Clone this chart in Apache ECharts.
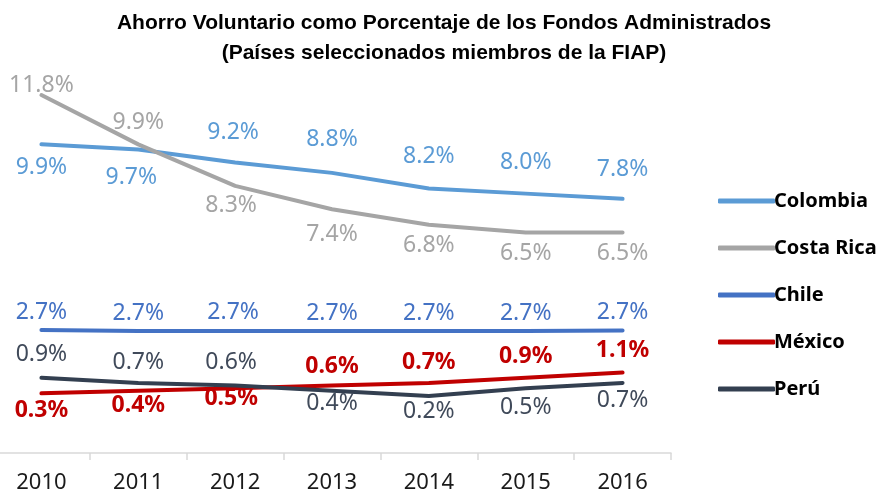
<!DOCTYPE html>
<html>
<head>
<meta charset="utf-8">
<script src="https://cdn.jsdelivr.net/npm/echarts@6/dist/echarts.min.js"></script>
<style>
  html, body { margin: 0; padding: 0; background: #fff; }
  #chart { width: 888px; height: 493px; }
</style>
</head>
<body>
<div id="chart"></div>
<script>
// 数据
const years = ['2010', '2011', '2012', '2013', '2014', '2015', '2016'];
const colombia = [9.9, 9.7, 9.2, 8.8, 8.2, 8.0, 7.8];
const costaRica = [11.8, 9.9, 8.3, 7.4, 6.8, 6.5, 6.5];
const chile = [2.74, 2.7, 2.7, 2.7, 2.7, 2.7, 2.72];
const mexico = [0.3, 0.4, 0.5, 0.6, 0.7, 0.9, 1.1];
const peru = [0.9, 0.7, 0.6, 0.4, 0.2, 0.5, 0.7];

// 标签相对数据点的偏移 (dx, dy)
const colombiaLbl = [[0, 23], [-7, 28], [-2, -30], [0, -33], [0, -32], [0, -31], [0, -29]];
const costaRicaLbl = [[0, -10], [0, -22], [-4, 20], [0, 25], [0, 21], [0, 21], [0, 21]];
const chileLbl = [[0, -18], [0, -18], [-2, -19], [0, -18], [0, -18], [0, -18], [0, -18]];
const mexicoLbl = [[0, 17], [0, 15], [-4, 10], [0, -19], [0, -21], [0, -21], [0, -22]];
const peruLbl = [[0, -23], [0, -21], [-4, -23], [0, 13], [0, 16], [0, 19], [0, 17]];

const chart = echarts.init(document.getElementById('chart'));

function makeSeries(name, values, offsets, color, labelColor, bold) {
    return {
        name: name,
        type: 'line',
        data: values.map((v, i) => ({
            value: v,
            label: { offset: offsets[i] }
        })),
        symbol: 'circle',
        symbolSize: 0,
        smooth: false,
        itemStyle: { color: color },
        lineStyle: { width: 4, color: color, cap: 'round', join: 'round' },
        label: {
            show: true,
            position: 'inside',
            align: 'center',
            verticalAlign: 'middle',
            color: labelColor,
            fontFamily: 'Noto Sans',
            fontSize: 23,
            fontWeight: bold ? 'bold' : 'normal',
            formatter: p => p.value.toFixed(1) + '%'
        },
        emphasis: { disabled: true }
    };
}

const option = {
    animation: false,
    title: {
        text: 'Ahorro Voluntario como Porcentaje de los Fondos Administrados\n(Países seleccionados miembros de la FIAP)',
        left: 'center',
        top: 3,
        textStyle: {
            fontFamily: 'Liberation Sans',
            fontWeight: 'bold',
            fontSize: 21,
            lineHeight: 30,
            color: '#000'
        }
    },
    legend: {
        orient: 'vertical',
        left: 713,
        top: 186,
        itemWidth: 57,
        itemHeight: 5,
        itemGap: 27,
        icon: 'roundRect',
        textStyle: {
            fontFamily: 'Noto Sans',
            fontWeight: 'bold',
            fontSize: 20,
            color: '#000',
            padding: [0, 0, 0, -6]
        },
        data: ['Colombia', 'Costa Rica', 'Chile', 'México', 'Perú']
    },
    grid: {
        left: -7,
        right: 217,
        top: 38,
        bottom: 40,
        outerBoundsMode: 'none'
    },
    xAxis: {
        type: 'category',
        data: years,
        boundaryGap: true,
        axisLine: { show: true, onZero: false, lineStyle: { color: '#D9D9D9', width: 1.5 } },
        axisTick: { show: true, length: 7, lineStyle: { color: '#D9D9D9', width: 1.5 } },
        axisLabel: {
            margin: 19,
            fontFamily: 'Noto Sans',
            fontSize: 22,
            color: '#1a1a1a'
        }
    },
    yAxis: {
        type: 'value',
        min: -2,
        max: 14,
        interval: 2,
        show: false,
        splitLine: { show: false }
    },
    series: [
        makeSeries('Colombia', colombia, colombiaLbl, '#5B9BD5', '#5B9BD5', false),
        makeSeries('Costa Rica', costaRica, costaRicaLbl, '#A5A5A5', '#A5A5A5', false),
        makeSeries('Chile', chile, chileLbl, '#4472C4', '#4472C4', false),
        makeSeries('México', mexico, mexicoLbl, '#C00000', '#C00000', true),
        makeSeries('Perú', peru, peruLbl, '#333F50', '#404A5A', false)
    ]
};

chart.setOption(option);

window.addEventListener('resize', function() {
    chart.resize();
});
</script>
</body>
</html>
